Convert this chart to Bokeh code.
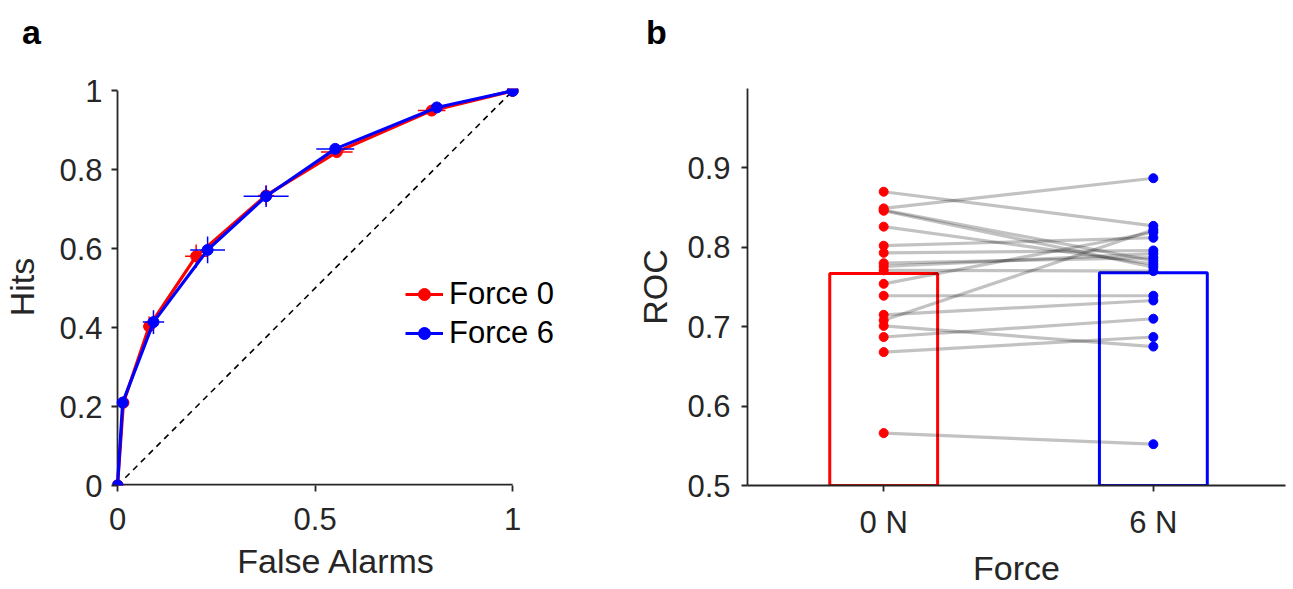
from bokeh.plotting import figure
from bokeh.layouts import row, column
from bokeh.models import Legend, LegendItem, FixedTicker, Range1d, Div
from bokeh.embed import file_html
from bokeh.resources import INLINE

# ---------------- data: panel a (ROC curves) ----------------
f0_fa = [0.0, 0.015, 0.080, 0.199, 0.376, 0.555, 0.795, 1.0]
f0_hit = [0.0, 0.210, 0.403, 0.581, 0.735, 0.845, 0.950, 1.0]
f0_fa_err = [0.0, 0.005, 0.015, 0.028, 0.020, 0.040, 0.035, 0.0]
f0_hit_err = [0.0, 0.015, 0.025, 0.030, 0.025, 0.010, 0.010, 0.0]

f6_fa = [0.0, 0.013, 0.091, 0.228, 0.376, 0.551, 0.808, 1.0]
f6_hit = [0.0, 0.210, 0.414, 0.597, 0.733, 0.853, 0.958, 1.0]
f6_fa_err = [0.0, 0.005, 0.027, 0.044, 0.057, 0.048, 0.010, 0.0]
f6_hit_err = [0.0, 0.015, 0.030, 0.034, 0.027, 0.008, 0.005, 0.0]

a_xticks = [0, 0.5, 1]
a_xtick_labels = ["0", "0.5", "1"]
a_yticks = [0, 0.2, 0.4, 0.6, 0.8, 1]
a_ytick_labels = ["0", "0.2", "0.4", "0.6", "0.8", "1"]

# ---------------- data: panel b (ROC per subject) ----------------
force_pos = [1, 2]
force_labels = ["0 N", "6 N"]
bar_means = [0.767, 0.768]
roc_0N = [0.870, 0.849, 0.847, 0.846, 0.826, 0.802, 0.793, 0.780, 0.776,
          0.771, 0.754, 0.739, 0.715, 0.708, 0.701, 0.687, 0.668, 0.566]
roc_6N = [0.827, 0.887, 0.783, 0.775, 0.779, 0.812, 0.796, 0.787, 0.792,
          0.770, 0.819, 0.739, 0.733, 0.822, 0.675, 0.710, 0.687, 0.552]
b_yticks = [0.5, 0.6, 0.7, 0.8, 0.9]
b_ytick_labels = ["0.5", "0.6", "0.7", "0.8", "0.9"]

RED = "#ff0000"
BLUE = "#0000ff"
AX = "#262626"
FONT = "Liberation Sans"
TICK_FS = "31px"
LAB_FS = "34px"
HEAD = 50          # height of the strip holding the panel letters
H = 589 - HEAD
TOP = 88 - HEAD
BOTTOM = 104


def style_axes(p):
    for ax in (p.xaxis, p.yaxis):
        ax.axis_line_color = AX
        ax.axis_line_width = 1.8
        ax.major_tick_line_color = AX
        ax.major_tick_line_width = 1.8
        ax.major_tick_out = 6
        ax.major_tick_in = 0
        ax.minor_tick_line_color = None
        ax.major_label_text_font = FONT
        ax.major_label_text_font_size = TICK_FS
        ax.major_label_text_color = AX
        ax.axis_label_text_font = FONT
        ax.axis_label_text_font_size = LAB_FS
        ax.axis_label_text_font_style = "normal"
        ax.axis_label_text_color = AX
    p.xgrid.visible = False
    p.ygrid.visible = False
    p.outline_line_color = None


def letter(text, width, left):
    return Div(text=text, width=width, height=HEAD, margin=0,
               styles={"font-family": FONT, "font-size": "34px", "font-weight": "bold",
                       "line-height": "34px", "padding-left": f"{left}px",
                       "padding-top": "15px", "box-sizing": "border-box",
                       "color": "black"})


# ---------------- panel a ----------------
pa = figure(width=570, height=H, output_backend="svg", toolbar_location=None,
            x_range=Range1d(-0.0127, 1.121), y_range=Range1d(0, 1.006),
            min_border_left=112, min_border_right=10, min_border_top=TOP,
            min_border_bottom=BOTTOM)
style_axes(pa)
# axis lines drawn from zero to one (frame is wider to leave room for the legend)
pa.xaxis.axis_line_color = None
pa.yaxis.axis_line_color = None
pa.yaxis.major_tick_in = 5
pa.yaxis.major_tick_out = 1
pa.yaxis.major_label_standoff = 9
pa.xaxis.major_label_standoff = 16
pa.xaxis.axis_label_standoff = 9
pa.xaxis.axis_label = "False Alarms"
pa.yaxis.axis_label = "Hits"
pa.yaxis.axis_label_standoff = 15
pa.xaxis.ticker = FixedTicker(ticks=a_xticks)
pa.yaxis.ticker = FixedTicker(ticks=a_yticks)
pa.xaxis.major_label_overrides = {t: l for t, l in zip(a_xticks, a_xtick_labels)}
pa.yaxis.major_label_overrides = {t: l for t, l in zip(a_yticks, a_ytick_labels)}

pa.segment(x0=[a_xticks[0]], y0=[a_yticks[0]], x1=[a_xticks[-1]], y1=[a_yticks[0]],
           line_color=AX, line_width=3.6)
pa.segment(x0=[a_xticks[0]], y0=[a_yticks[0]], x1=[a_xticks[0]], y1=[a_yticks[-1]],
           line_color=AX, line_width=1.8)

pa.line([a_xticks[0], a_xticks[-1]], [a_yticks[0], a_yticks[-1]],
        line_color="black", line_width=1.6, line_dash="6 5")

renderers = {}
for name, fa, hit, fe, he, col in [("Force 0", f0_fa, f0_hit, f0_fa_err, f0_hit_err, RED),
                                   ("Force 6", f6_fa, f6_hit, f6_fa_err, f6_hit_err, BLUE)]:
    pa.segment(x0=[x - e for x, e in zip(fa, fe)], x1=[x + e for x, e in zip(fa, fe)],
               y0=hit, y1=hit, line_color=col, line_width=1.5)
    pa.segment(x0=fa, x1=fa, y0=[y - e for y, e in zip(hit, he)],
               y1=[y + e for y, e in zip(hit, he)], line_color=col, line_width=1.5)
    ln = pa.line(fa, hit, line_color=col, line_width=3.2)
    sc = pa.scatter(fa, hit, size=11, fill_color=col, line_color=col, marker="circle")
    renderers[name] = [ln, sc]

legend = Legend(items=[LegendItem(label=k, renderers=v) for k, v in renderers.items()],
                location=(293, 134), padding=0, margin=0, spacing=3,
                glyph_width=38, glyph_height=30, label_height=30, label_standoff=6,
                label_text_font=FONT, label_text_font_size="31px",
                label_text_color="black", border_line_color=None,
                background_fill_alpha=0)
pa.add_layout(legend, "center")

# ---------------- panel b ----------------
pb = figure(width=720, height=H, output_backend="svg", toolbar_location=None,
            x_range=Range1d(0.495, 2.49), y_range=Range1d(0.5, 1.0),
            min_border_left=177, min_border_right=5, min_border_top=TOP,
            min_border_bottom=BOTTOM)
style_axes(pb)
pb.yaxis.major_label_standoff = 11
pb.xaxis.major_label_standoff = 13
pb.xaxis.axis_label_standoff = 6
pb.xaxis.axis_label = "Force"
pb.yaxis.axis_label = "ROC"
pb.yaxis.axis_label_standoff = 10
pb.xaxis.ticker = FixedTicker(ticks=force_pos)
pb.xaxis.major_label_overrides = {t: l for t, l in zip(force_pos, force_labels)}
pb.yaxis.ticker = FixedTicker(ticks=b_yticks)
pb.yaxis.major_label_overrides = {t: l for t, l in zip(b_yticks, b_ytick_labels)}

pb.vbar(x=force_pos, top=bar_means, bottom=0.5, width=0.4, fill_color=None,
        line_color=[RED, BLUE], line_width=3)
pb.multi_line(xs=[[force_pos[0], force_pos[1]] for _ in roc_0N],
              ys=[[r, b] for r, b in zip(roc_0N, roc_6N)],
              line_color="black", line_alpha=0.24, line_width=3.2)
pb.scatter([force_pos[0]] * len(roc_0N), roc_0N, size=9, fill_color=RED, line_color=RED)
pb.scatter([force_pos[1]] * len(roc_6N), roc_6N, size=9, fill_color=BLUE, line_color=BLUE)

layout = column(row(letter("a", 570, 22), letter("b", 720, 76)), row(pa, pb))
open("out.html", "w").write(file_html(layout, INLINE))
